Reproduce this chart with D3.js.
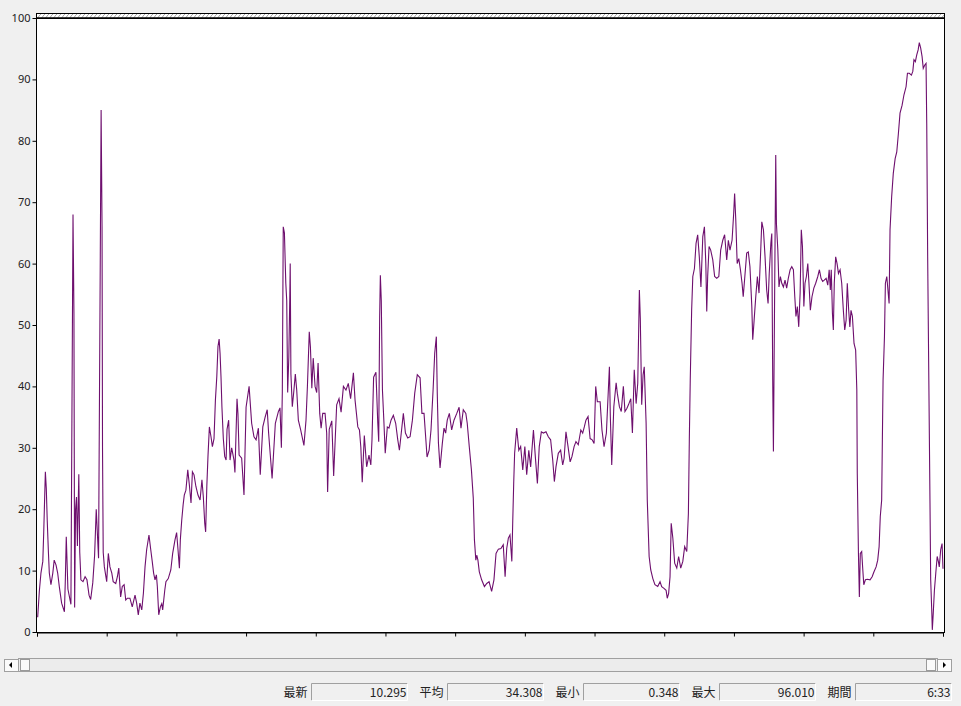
<!DOCTYPE html>
<html>
<head>
<meta charset="utf-8">
<script src="https://cdn.jsdelivr.net/npm/d3@7"></script>
<style>
  body { margin: 0; background: #f0f0f0; }
  svg { display: block; }
  .axis text { font: 11px "Noto Sans", sans-serif; fill: #222; }
  .status text { font: 12px "Noto Sans CJK JP", sans-serif; fill: #222; }
</style>
</head>
<body>
<div id="chart"></div>
<script>
// 経過時間(秒) と 値
const times = [0.3,1.0,1.7,2.5,2.9,3.6,4.0,4.4,4.9,5.3,6.0,6.8,7.4,8.2,8.9,9.6,10.6,11.8,12.2,12.6,13.3,14.6,15.5,15.9,16.2,16.6,17.0,17.4,18.0,18.4,18.9,19.8,20.7,21.5,22.4,23.1,24.0,24.8,25.5,26.5,27.6,28.0,28.2,28.5,29.0,30.0,30.7,31.4,32.2,32.8,33.9,34.6,35.2,36.0,36.7,37.5,38.2,38.9,40.0,41.0,42.2,42.9,43.6,44.3,45.1,45.8,46.5,47.2,48.2,48.9,49.6,50.2,50.8,51.4,51.8,52.4,53.1,53.7,54.1,55.0,55.5,56.5,57.6,58.4,59.4,60.1,60.7,61.3,61.7,62.3,62.9,63.4,64.1,64.9,65.6,66.3,66.9,67.6,68.4,69.3,70.2,71.0,71.6,72.2,72.6,73.1,73.6,74.2,74.9,75.5,76.2,76.8,77.4,77.9,78.4,78.8,79.2,79.6,80.2,80.8,81.4,81.8,82.5,83.1,83.8,84.8,85.2,86.1,86.5,87.0,88.1,89.1,90.0,91.3,92.4,93.4,94.3,95.3,96.1,97.2,98.2,99.1,99.7,101.2,102.6,103.9,104.6,105.2,105.6,106.0,106.5,107.1,107.5,107.9,108.4,108.8,109.0,109.3,109.9,110.5,111.2,111.8,112.5,113.5,114.9,115.8,116.4,117.2,117.7,118.3,118.9,119.7,120.4,121.0,121.7,122.3,123.0,124.0,124.7,125.1,125.8,126.9,127.7,129.0,130.0,130.9,131.9,133.0,134.0,135.0,136.2,136.9,138.1,138.8,139.4,140.0,140.9,141.9,142.9,143.7,144.2,144.9,145.9,146.7,147.1,147.5,147.8,148.2,148.7,149.3,149.9,150.8,151.5,152.4,153.4,154.4,155.3,156.0,156.8,157.7,158.6,159.6,160.6,161.6,162.6,163.7,164.9,165.7,166.6,167.3,167.9,168.8,169.6,170.5,171.2,171.9,172.3,172.8,173.5,174.5,175.2,175.9,176.6,177.5,178.5,179.5,180.7,181.7,182.5,183.5,184.6,185.2,186.1,187.0,187.8,188.3,188.9,189.3,189.8,190.4,191.4,192.6,193.6,194.6,195.7,196.7,197.6,198.6,199.7,200.7,201.5,202.2,202.9,203.6,204.4,204.8,205.2,205.6,206.5,207.4,208.2,209.1,210.0,210.8,211.7,212.5,213.7,214.5,215.4,216.2,217.1,218.0,219.1,220.1,221.1,222.0,222.7,223.4,224.4,225.4,226.3,226.9,227.7,228.6,229.5,230.3,231.2,232.0,233.0,234.1,234.9,235.6,236.3,237.2,238.1,239.0,239.8,240.5,241.2,242.4,243.2,244.1,245.1,246.4,246.8,247.4,248.3,249.3,249.8,250.7,251.5,252.4,253.1,253.9,254.6,255.6,256.3,257.1,257.9,258.6,259.3,259.7,260.3,260.9,261.4,262.2,262.7,263.5,264.2,265.1,266.0,267.2,268.2,268.9,269.9,270.8,271.3,271.9,272.5,273.0,273.7,274.5,275.4,276.2,277.1,278.0,278.8,279.7,280.4,280.8,281.2,281.8,282.3,283.0,283.7,284.4,285.1,285.8,286.6,287.3,287.9,288.3,288.7,289.3,290.0,290.9,291.7,292.6,293.5,294.3,295.2,296.0,296.9,297.6,298.3,299.2,299.9,300.3,300.8,301.4,302.1,302.8,303.5,304.0,304.8,305.5,306.2,306.9,307.7,308.1,308.7,309.4,310.1,310.8,311.6,312.0,312.7,313.4,314.1,314.7,315.2,315.9,316.3,316.7,317.0,317.4,317.7,318.0,318.3,318.9,319.4,320.0,320.6,321.3,322.0,322.7,323.4,324.2,324.9,325.6,326.2,326.7,327.3,327.9,328.5,329.0,329.5,330.1,330.6,331.2,331.8,332.3,332.9,333.6,334.4,335.2,336.1,336.8,337.5,338.2,338.9,339.7,340.4,341.0,341.5,341.9,342.4,342.8,343.2,343.8,344.4,345.0,345.7,346.4,347.1,347.7,348.3,348.8,349.4,349.9,350.4,351.0,351.7,352.4,352.9,353.1,353.6,354.0,354.4,355.0,355.4,355.9,356.6,357.4,358.6,359.5,360.3,361.2,361.9,362.5,363.0,363.6,363.9,364.2,364.8,365.2,365.8,366.3,366.8,367.2,367.9,368.6,369.4,370.1,370.8,371.5,372.4,373.2,374.1,374.7,375.5,376.4,377.0,377.5,378.1,378.7,379.3,379.8,380.4,381.0,381.5,382.1,382.7,383.0,383.4,383.9,384.4,384.7,385.2,385.4,385.8,386.3,386.9,387.5,388.0,388.4,389.0,389.6,390.0]
const values = [2.4,6.6,9.6,11.5,16.3,26.1,23.4,18.2,13.1,9.6,7.7,9.6,11.7,10.9,9.6,7.4,4.7,3.3,8.5,15.5,7,4.5,68,52,4,20,22,14,25.7,13,8.5,8.2,9,8.5,6,5.3,8,12.5,20,12,85,66,30,13,10.6,8.2,12.8,10.6,9.6,8.2,7.9,9,10.4,5.7,7.4,7.7,5.2,5.5,5.5,4.1,6,4.7,2.8,4.7,3.6,6.3,10.6,13.4,15.8,13.6,11.5,9.6,8.5,9.3,7.4,2.8,4.1,4.6,3.6,6.8,8.2,8.7,10.1,12.8,15,16.2,13.4,10.4,15,18.2,20.7,22.3,23.1,26.4,23.9,21,26.1,25.6,23.7,22.3,21.5,24.8,22,17.7,16.3,23.7,28.6,33.4,31.8,30.2,31.5,37.8,41.6,46.5,47.7,45.4,41.6,36.7,31.5,28.6,28,33,34.5,28,30,28,26,38,35.6,28.8,28.3,22.3,36.6,40,34,31.8,31.3,33.2,25.6,33.4,35,36.2,32.4,25,34,35.9,36.5,30,39,66,65,56.8,54,39,44.8,54,60,42,36.7,39,42,39.4,34.5,32.9,30.4,34.5,40,48.9,46.4,39.7,44.6,40,39,43.8,35.6,33.2,35.6,35.6,32.4,22.8,33,34.4,25.4,37,38,35.8,40,39.4,40.5,38,42.2,37.8,33.4,32.9,30.1,24.4,32,26.9,28.8,27.2,31.3,41.5,42.3,34,31,51.3,58.1,54,39.4,34.5,29.1,33.4,33.2,34.5,35.3,34,31.3,29.6,32.4,35.6,32.4,31.6,31.8,34.5,38.9,41.9,41.4,35.6,35.6,31.8,28.5,29.6,32.9,39.4,45.4,48.1,38.9,30.8,26.7,30.8,33.2,32.4,34.5,35.6,32.9,34.5,35.6,36.6,33.2,36.2,35.6,34,30.1,26.4,21.8,15,11.7,12.5,11.7,9.8,8.5,7.4,7.9,8.2,6.6,8.5,12.8,13.5,13.6,14.2,9,13.6,15.3,15.8,11.5,18.2,24.2,29.1,33.2,29.6,30.2,26.4,30.2,25.6,29.6,26.9,32.9,28.6,24.2,30.2,32.6,32.4,32.6,31.8,31.3,28,24.5,26.9,29.1,29.6,27.2,28.3,32.6,30.2,27.7,28.6,30.2,31,30.5,32.9,32.4,33.4,34.5,35.1,31.5,31.3,30.7,40,37.5,37.5,32.9,30.2,32.4,43.2,35.1,27.2,36.7,40.6,38.9,36.7,35.9,40,35.9,36.4,37,38,32.4,42.7,37.2,40.5,55.7,51.1,37,41.9,43.2,34,21.5,12.3,10.1,8.7,7.7,7.4,8.2,7.4,7.1,6.8,5.5,6.3,9,17.7,15.3,11.2,10.4,12.3,10.4,11.5,13.9,13.1,19.3,31.3,41,52.4,57.9,59.2,63.3,64.7,61.1,56.2,64.4,66,60,52.2,57.9,62.8,62.2,60.6,57.9,57.6,57.9,62.2,63.8,64.7,60.6,63.8,62.2,63.8,68.2,71.4,67.1,60,60.8,59,56.8,54.6,58.4,61.7,61.9,59.5,53,47.6,50.8,54.6,57.9,55.2,62.8,66.8,65.5,61.1,55.7,53.5,58.4,63.3,64.9,41,29.4,49.2,63.3,77.7,66.5,62.2,56.2,57.9,56.8,56.2,57.3,56,57.6,59,59.5,59,54.6,51.4,53,49.7,55.2,65.5,62.8,53,56.8,57.9,60,56.8,52.4,54.6,56,56.8,57.9,59,57.6,57.1,57.3,57.6,56.5,59,55.7,59,51.9,49.2,56.8,61.1,60,58.4,59,56.8,52.4,49.2,50.8,56.8,52.4,49.7,52.4,51.4,47,45.9,39.4,25.8,12.8,5.7,12.8,13.1,10.6,7.7,8.5,8.6,8.5,9,9.8,10.6,11.7,13.9,18.8,21.5,31.3,41,48.1,56.8,57.9,55.7,53.5,65.5,70.9,74.7,77.1,78.2,81.2,84.5,85.8,87.5,88.8,91,91,90.7,91.3,93.2,92.9,94,94.8,96,95.1,93.7,91.8,92.3,92.6,82.8,61.1,41,21,8.5,3,0.35,3,6.8,9.6,12.3,11.5,10.6,13.4,14.4,10.3]

const yTicks = [0, 10, 20, 30, 40, 50, 60, 70, 80, 90, 100]
const xTicks = [0, 30, 60, 90, 120, 150, 180, 210, 240, 270, 300, 330, 360, 390]
const statLabels = ['最新', '平均', '最小', '最大', '期間']
const statValues = ['10.295', '34.308', '0.348', '96.010', '6:33']

const W = 961
const H = 706
const plotL = 37
const plotR = 943
const plotT = 18
const plotB = 632

const svg = d3.select('#chart').append('svg')
  .attr('width', W)
  .attr('height', H)

const x = d3.scaleLinear().domain([0, 390]).range([plotL, plotR])
const y = d3.scaleLinear().domain([0, 100]).range([plotB, plotT])

// 斜線の帯
const defs = svg.append('defs')
defs.append('pattern')
  .attr('id', 'hatch')
  .attr('patternUnits', 'userSpaceOnUse')
  .attr('width', 4)
  .attr('height', 5)
  .append('path')
  .attr('d', 'M0,5 L4,0')
  .attr('stroke', '#8a8a8a')
  .attr('stroke-width', 0.8)

svg.append('rect')
  .attr('x', plotL - 0.5)
  .attr('y', 13.5)
  .attr('width', plotR - plotL + 2)
  .attr('height', 5)
  .attr('fill', '#fff')
svg.append('rect')
  .attr('x', plotL - 0.5)
  .attr('y', 13.5)
  .attr('width', plotR - plotL + 2)
  .attr('height', 5)
  .attr('fill', 'url(#hatch)')
  .attr('stroke', '#000')
  .attr('stroke-width', 1)

// 描画領域
svg.append('rect')
  .attr('x', plotL - 0.5)
  .attr('y', plotT + 0.5)
  .attr('width', plotR - plotL + 2)
  .attr('height', plotB - plotT)
  .attr('fill', '#fff')
  .attr('stroke', '#000')
  .attr('stroke-width', 1)

svg.append('line')
  .attr('x1', plotL - 0.5).attr('x2', plotR + 1.5)
  .attr('y1', plotT).attr('y2', plotT)
  .attr('stroke', '#000').attr('stroke-width', 1.5)

const yAxis = svg.append('g')
  .attr('class', 'axis')
  .attr('transform', `translate(${plotL - 0.5},0)`)
  .call(d3.axisLeft(y).tickValues(yTicks).tickSize(4).tickPadding(2))
yAxis.select('.domain').remove()
yAxis.selectAll('line').attr('stroke', '#000')

const xAxis = svg.append('g')
  .attr('class', 'axis')
  .attr('transform', `translate(0,${plotB + 0.5})`)
  .call(d3.axisBottom(x).tickValues(xTicks).tickSize(4).tickFormat(''))
xAxis.select('.domain').attr('stroke', '#000')
xAxis.selectAll('line').attr('stroke', '#000')

const data = d3.zip(times, values)
const line = d3.line()
  .x(d => x(d[0]))
  .y(d => y(d[1]))

svg.append('path')
  .datum(data)
  .attr('fill', 'none')
  .attr('stroke', '#6e0f6e')
  .attr('stroke-width', 1.1)
  .attr('stroke-linejoin', 'miter')
  .attr('d', line)

// スクロールバー
const sb = svg.append('g')
sb.append('rect')
  .attr('x', 18.5).attr('y', 658.5)
  .attr('width', 919).attr('height', 13)
  .attr('fill', '#ececec').attr('stroke', '#a0a0a0')
const buttons = [
  { x: 4.5, d: 'M12,662 L12,668 L9,665 Z' },
  { x: 937.5, d: 'M943,662 L943,668 L946,665 Z' }
]
buttons.forEach(b => {
  sb.append('rect')
    .attr('x', b.x).attr('y', 659.5)
    .attr('width', 14).attr('height', 12)
    .attr('fill', '#fbfbfb').attr('stroke', '#a0a0a0')
  sb.append('path').attr('d', b.d).attr('fill', '#000')
})
;[20.5, 926.5].forEach(tx => {
  sb.append('rect')
    .attr('x', tx).attr('y', 659.5)
    .attr('width', 9).attr('height', 11)
    .attr('fill', '#fafafa').attr('stroke', '#9a9a9a')
})

// 統計表示
const status = svg.append('g').attr('class', 'status')
statLabels.forEach((lab, i) => {
  const bx = 311.5 + i * 136
  status.append('text')
    .attr('x', bx - 4)
    .attr('y', 697)
    .attr('text-anchor', 'end')
    .text(lab)
  status.append('rect')
    .attr('x', bx).attr('y', 683.5)
    .attr('width', 96).attr('height', 17)
    .attr('fill', '#f0f0f0').attr('stroke', 'none')
  status.append('path')
    .attr('d', `M${bx},${700.5} V${683.5} H${bx + 96}`)
    .attr('fill', 'none').attr('stroke', '#a0a0a0')
  status.append('path')
    .attr('d', `M${bx + 96},${683.5} V${700.5} H${bx}`)
    .attr('fill', 'none').attr('stroke', '#ffffff')
  status.append('text')
    .attr('x', bx + 95)
    .attr('y', 697)
    .attr('text-anchor', 'end')
    .text(statValues[i])
})
</script>
</body>
</html>
